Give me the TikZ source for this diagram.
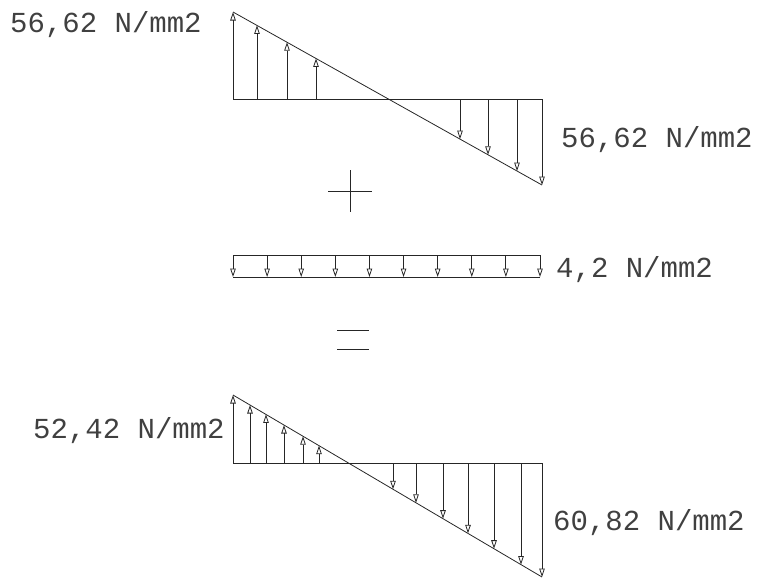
\documentclass[tikz,border=0pt]{standalone}
\usepackage{fontspec}
\setmonofont{Liberation Mono}
\usetikzlibrary{arrows.meta}
\begin{document}
\begin{tikzpicture}[x=1pt,y=-1pt,
 ln/.style={line width=0.8pt,black!85},
 ar/.style={-{Triangle[open,length=8.5pt,width=5.5pt]},line width=0.8pt,black!85},
 lbl/.style={inner sep=0pt,text=black!75,font=\fontsize{29}{29}\selectfont\ttfamily}]
\useasboundingbox (0,0) rectangle (757,579);

% first stress block
\coordinate (t1) at (233,12);
\coordinate (t2) at (542,185);
\draw[ln] (233,99) -- (542,99);
\draw[ln] (t1) -- (t2);
\foreach \x in {233,257,287,316}
  \draw[ar] (\x,99) -- (\x,{12+(\x-233)*0.5599});
\foreach \x in {460,488,517,542}
  \draw[ar] (\x,99) -- (\x,{12+(\x-233)*0.5599});
\node[lbl,anchor=base west] (s1) at (10,32) {56,62 N/mm2};
\node[lbl,anchor=base west] (s2) at (561,147) {56,62 N/mm2};

% plus
\draw[ln] (328,191) -- (372,191);
\draw[ln] (350,170) -- (350,212);

% uniform block
\draw[ln] (233,255) -- (540,255);
\draw[ln] (233,277) -- (540,277);
\foreach \i in {0,...,9}
  \draw[ar] ({233+\i*34.11},255) -- ({233+\i*34.11},277);
\node[lbl,anchor=base west] (u1) at (556,277) {4,2 N/mm2};

% equals
\draw[ln] (337,330) -- (369,330);
\draw[ln] (337,349) -- (369,349);

% resulting stress block
\coordinate (b1) at (233,395);
\coordinate (b2) at (542,577);
\draw[ln] (233,463) -- (542,463);
\draw[ln] (b1) -- (b2);
\foreach \x in {233,250,266,284,303,319}
  \draw[ar] (\x,463) -- (\x,{395+(\x-233)*0.589});
\foreach \x in {393,416,443,468,494,521,542}
  \draw[ar] (\x,463) -- (\x,{395+(\x-233)*0.589});
\node[lbl,anchor=base west] (r1) at (33,438) {52,42 N/mm2};
\node[lbl,anchor=base west] (r2) at (553,530) {60,82 N/mm2};
\end{tikzpicture}
\end{document}
